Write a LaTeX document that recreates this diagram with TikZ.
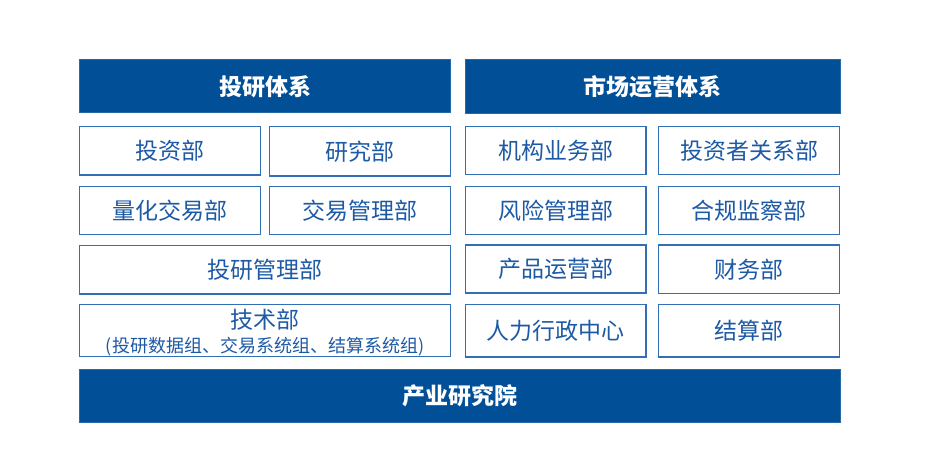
\documentclass[tikz,border=0pt]{standalone}
\usepackage{fontspec}
\newfontfamily\cjk{Noto Sans CJK SC}
\definecolor{hdr}{HTML}{004F97}
\definecolor{bord}{HTML}{3270B5}
\definecolor{txt}{HTML}{1D5AA6}
\tikzset{
  hbox/.style={draw=hdr!85!white, line width=1pt, fill=hdr},
  dbox/.style={draw=bord, line width=1.4pt, fill=white},
  htext/.style={text=white, font=\cjk\bfseries\fontsize{23}{26}\selectfont, inner sep=0pt},
  dtext/.style={text=txt, font=\cjk\fontsize{23}{26}\selectfont, inner sep=0pt}
}
\begin{document}
\begin{tikzpicture}[x=1pt,y=-1pt]
\useasboundingbox[fill=white] (0,0) rectangle (926,470);
% headers
\draw[hbox] (79.5,60) rectangle (450.5,113) node[htext, midway] (h1) {投研体系};
\draw[hbox] (465,60) rectangle (840,113.5) node[htext, midway] (h2) {市场运营体系};
% left column
\draw[dbox] (79.7,126.7) rectangle (260.3,175) node[dtext, midway] (l1a) {投资部};
\draw[dbox] (269.7,126.7) rectangle (450.3,176) node[dtext, midway] (l1b) {研究部};
\draw[dbox] (79.7,186.7) rectangle (260.3,234.5) node[dtext, midway] (l2a) {量化交易部};
\draw[dbox] (269.7,186.7) rectangle (450.3,234.5) node[dtext, midway] (l2b) {交易管理部};
\draw[dbox] (79.7,245.7) rectangle (450.3,294) node[dtext, midway] (l3) {投研管理部};
\draw[dbox] (79.7,304.2) rectangle (450.3,356.5) node[dtext, midway, yshift=-2pt, align=center] (l4)
  {技术部\\[-1.5pt]{\fontsize{18}{20}\selectfont (投研数据组、交易系统组、结算系统组)}};
% right column
\draw[dbox] (465.7,126.7) rectangle (645.8,174.5) node[dtext, midway] (r1a) {机构业务部};
\draw[dbox] (658.7,126.7) rectangle (839.3,174.5) node[dtext, midway] (r1b) {投资者关系部};
\draw[dbox] (465.7,186.7) rectangle (645.8,234.5) node[dtext, midway] (r2a) {风险管理部};
\draw[dbox] (658.7,186.7) rectangle (839.3,234.5) node[dtext, midway] (r2b) {合规监察部};
\draw[dbox] (465.7,245.2) rectangle (645.8,293) node[dtext, midway] (r3a) {产品运营部};
\draw[dbox] (658.7,245.2) rectangle (839.3,293.5) node[dtext, midway] (r3b) {财务部};
\draw[dbox] (465.7,304.7) rectangle (645.8,356.8) node[dtext, midway] (r4a) {人力行政中心};
\draw[dbox] (658.7,304.7) rectangle (839.3,356.8) node[dtext, midway] (r4b) {结算部};
% bottom
\draw[hbox] (79.5,369) rectangle (840,422) node[htext, midway] (bot) {产业研究院};
\end{tikzpicture}
\end{document}
